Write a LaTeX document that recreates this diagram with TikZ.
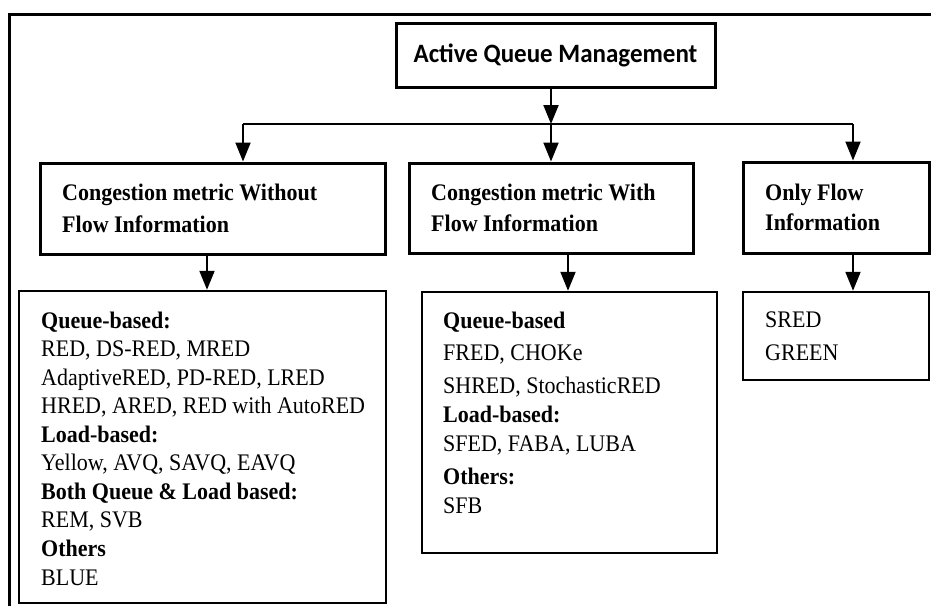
\documentclass[tikz,border=0pt]{standalone}
\usepackage{fontspec}
\usepackage{graphicx}
\setmainfont{Liberation Serif}
\newfontfamily\calibfont{Carlito}
\usetikzlibrary{arrows.meta}
% left-aligned block of lines, slightly stretched vertically; #1 = line pitch
\newcommand\txtblock[2]{\scalebox{1}[1.08]{\fontsize{22}{#1}\selectfont\begin{tabular}[t]{@{}l@{}}#2\end{tabular}}}

\begin{document}
\begin{tikzpicture}[x=1pt,y=-1pt,
  headbox/.style={draw, line width=3pt, inner sep=0pt},
  listbox/.style={draw, line width=2.5pt, inner sep=0pt},
  conn/.style={line width=2pt},
  arr/.style={conn, -{Triangle[length=19pt,width=15pt]}},
  txt/.style={anchor=base west, inner sep=0pt}]
\useasboundingbox (0,0) rectangle (931,606);

% outer frame (open on the right and at the bottom)
\draw[line width=3pt] (9,606) -- (9,14) -- (931,14);

% title
\node[headbox, minimum width=319pt, minimum height=64pt] (title) at (555.5,55)
  {\scalebox{1}[1.06]{\calibfont\bfseries\fontsize{25}{30}\selectfont Active Queue Management}};

% category boxes
\node[headbox, minimum width=345pt, minimum height=91pt] (hL) at (212.5,208.5) {};
\node[headbox, minimum width=284pt, minimum height=90pt] (hM) at (551,208) {};
\node[headbox, minimum width=186pt, minimum height=91pt] (hR) at (836,207.5) {};

\node[txt] (hLt) at (62,200) {\txtblock{30.5}{\bfseries Congestion metric Without\\ \bfseries Flow Information}};
\node[txt] (hMt) at (431,200) {\txtblock{28.7}{\bfseries Congestion metric With\\ \bfseries Flow Information}};
\node[txt] (hRt) at (765,200) {\txtblock{27.8}{\bfseries Only Flow\\ \bfseries Information}};

% algorithm lists
\node[listbox, minimum width=367pt, minimum height=312pt] (lL) at (202.5,447) {};
\node[listbox, minimum width=295pt, minimum height=261pt] (lM) at (569.5,422.5) {};
\node[listbox, minimum width=186pt, minimum height=88pt] (lR) at (836,336) {};

\node[txt] (lLt) at (41,328) {\txtblock{26.44}{%
  \bfseries Queue-based:\\
  RED, DS-RED, MRED\\
  AdaptiveRED, PD-RED, LRED\\
  HRED, ARED, RED with AutoRED\\
  \bfseries Load-based:\\
  Yellow, AVQ, SAVQ, EAVQ\\
  \bfseries Both Queue \& Load based:\\
  REM, SVB\\
  \bfseries Others\\
  BLUE}};
\node[txt] (lMt) at (443,328) {\txtblock{26.85}{%
  \bfseries Queue-based\\[2.8pt]
  FRED, CHOKe\\[3.7pt]
  SHRED, StochasticRED\\
  \bfseries Load-based:\\
  SFED, FABA, LUBA\\[3.7pt]
  \bfseries Others:\\
  SFB}};
\node[txt] (lRt) at (765,327) {\txtblock{30.56}{SRED\\ GREEN}};

% connectors
\coordinate (j)  at (551,124);
\coordinate (jl) at (243,124);
\coordinate (jr) at (853,124);
\coordinate (aL) at (207,0);
\coordinate (aM) at (568,0);
\coordinate (aR) at (853,0);

\draw[arr] (title.south -| j) -- (j);
\draw[conn] (jl) -- (jr);
\draw[arr] (jl) -- (hL.north -| jl);
\draw[arr] (j) -- (hM.north -| j);
\draw[arr] (jr) -- (hR.north -| jr);

\draw[arr] (hL.south -| aL) -- (lL.north -| aL);
\draw[arr] (hM.south -| aM) -- (lM.north -| aM);
\draw[arr] (hR.south -| aR) -- (lR.north -| aR);
\end{tikzpicture}
\end{document}
